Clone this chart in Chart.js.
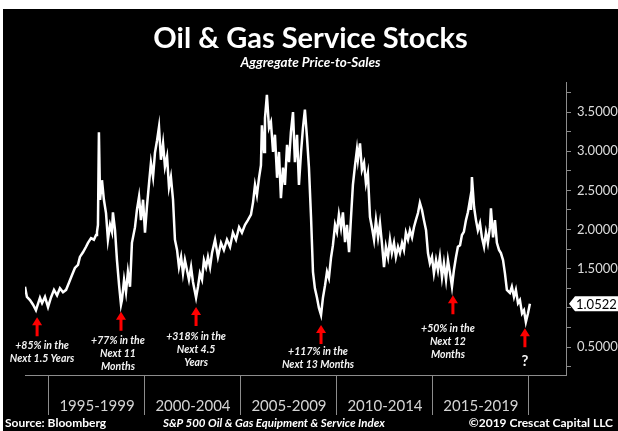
<!DOCTYPE html>
<html lang="en">
<head>
<meta charset="UTF-8">
<title>Oil &amp; Gas Service Stocks</title>
<script src="https://cdn.jsdelivr.net/npm/chart.js"></script>
<style>
    body { margin: 0; background: #fff; font-family: Lato, "Open Sans", sans-serif; }
    #wrap { position: absolute; left: 3px; top: 9px; width: 615px; height: 422px; background: #000; overflow: hidden; }
    #wrap canvas { position: absolute; left: 0; top: 0; }
    .txt { position: absolute; color: #fff; white-space: nowrap; }
    #title { left: 0; width: 615px; top: 12px; text-align: center; font-weight: bold; font-size: 29px; line-height: 32px; }
    #subtitle { left: 0; width: 615px; top: 45px; text-align: center; font-style: italic; font-weight: bold; font-size: 13.5px; line-height: 16px; }
    #source { left: 2px; top: 406px; font-weight: bold; font-size: 12px; line-height: 16px; }
    #index { left: 160px; top: 406px; font-style: italic; font-weight: bold; font-size: 11.5px; line-height: 16px; }
    #copy { right: 5px; top: 406px; font-weight: bold; font-size: 12px; line-height: 16px; }
</style>
</head>
<body>
<div id="wrap">
    <canvas id="chart" width="615" height="422"></canvas>
    <div class="txt" id="title">Oil &amp; Gas Service Stocks</div>
    <div class="txt" id="subtitle">Aggregate Price-to-Sales</div>
    <div class="txt" id="source">Source: Bloomberg</div>
    <div class="txt" id="index">S&amp;P 500 Oil &amp; Gas Equipment &amp; Service Index</div>
    <div class="txt" id="copy">©2019 Crescat Capital LLC</div>
</div>
<script>
    // readings: decimal year, aggregate price-to-sales
    const years = [
        1993.75, 1993.85, 1994.01, 1994.17, 1994.32, 1994.53, 1994.64, 1994.79, 1994.95, 1995.10,
        1995.26, 1995.42, 1995.57, 1995.73, 1995.89, 1996.04, 1996.20, 1996.35, 1996.51, 1996.61,
        1996.77, 1996.93, 1997.03, 1997.19, 1997.34, 1997.45, 1997.50, 1997.55, 1997.60, 1997.66,
        1997.71, 1997.76, 1997.86, 1997.97, 1998.07, 1998.18, 1998.28, 1998.33, 1998.44, 1998.54,
        1998.65, 1998.75, 1998.80, 1998.91, 1999.01, 1999.11, 1999.22, 1999.32, 1999.48, 1999.58,
        1999.69, 1999.79, 1999.90, 2000.00, 2000.10, 2000.21, 2000.31, 2000.42, 2000.52, 2000.63,
        2000.73, 2000.83, 2000.94, 2001.04, 2001.15, 2001.25, 2001.35, 2001.46, 2001.56, 2001.67,
        2001.77, 2001.88, 2001.98, 2002.08, 2002.19, 2002.29, 2002.40, 2002.50, 2002.66, 2002.76,
        2002.86, 2002.97, 2003.07, 2003.18, 2003.28, 2003.39, 2003.49, 2003.65, 2003.80, 2003.96,
        2004.11, 2004.27, 2004.43, 2004.58, 2004.74, 2004.90, 2005.05, 2005.21, 2005.36, 2005.52,
        2005.63, 2005.73, 2005.83, 2005.94, 2006.04, 2006.09, 2006.20, 2006.25, 2006.35, 2006.46,
        2006.56, 2006.67, 2006.77, 2006.88, 2006.98, 2007.08, 2007.19, 2007.29, 2007.40, 2007.50,
        2007.60, 2007.71, 2007.81, 2007.92, 2008.02, 2008.13, 2008.23, 2008.33, 2008.44, 2008.54,
        2008.65, 2008.75, 2008.85, 2008.96, 2009.06, 2009.17, 2009.27, 2009.38, 2009.48, 2009.58,
        2009.69, 2009.79, 2009.90, 2010.00, 2010.10, 2010.21, 2010.31, 2010.42, 2010.52, 2010.63,
        2010.73, 2010.83, 2010.94, 2011.04, 2011.09, 2011.20, 2011.30, 2011.41, 2011.51, 2011.61,
        2011.72, 2011.82, 2011.93, 2012.03, 2012.14, 2012.24, 2012.34, 2012.45, 2012.55, 2012.66,
        2012.76, 2012.86, 2012.97, 2013.07, 2013.18, 2013.28, 2013.39, 2013.49, 2013.59, 2013.70,
        2013.80, 2013.91, 2014.01, 2014.11, 2014.22, 2014.32, 2014.43, 2014.53, 2014.64, 2014.74,
        2014.84, 2014.95, 2015.05, 2015.16, 2015.26, 2015.36, 2015.47, 2015.57, 2015.68, 2015.78,
        2015.89, 2015.99, 2016.09, 2016.20, 2016.30, 2016.41, 2016.51, 2016.61, 2016.72, 2016.82,
        2016.93, 2016.98, 2017.03, 2017.14, 2017.24, 2017.34, 2017.45, 2017.55, 2017.66, 2017.76,
        2017.86, 2017.97, 2018.02, 2018.13, 2018.23, 2018.33, 2018.44, 2018.54, 2018.65, 2018.75,
        2018.85, 2019.01, 2019.11, 2019.22, 2019.32, 2019.43, 2019.53, 2019.64, 2019.74, 2019.84,
        2019.95, 2020.05
    ];
    const priceToSales = [
        1.27, 1.14, 1.10, 1.04, 0.97, 1.13, 1.06, 1.14, 1.01, 1.13,
        1.23, 1.16, 1.25, 1.20, 1.23, 1.32, 1.42, 1.51, 1.55, 1.65,
        1.71, 1.78, 1.83, 1.89, 1.87, 1.93, 1.97, 2.06, 3.24, 2.38,
        2.50, 2.63, 2.38, 2.21, 1.87, 2.06, 1.97, 2.22, 1.99, 1.61,
        1.29, 1.04, 1.10, 1.36, 1.20, 1.46, 1.27, 1.83, 2.03, 2.25,
        2.42, 2.12, 2.38, 1.96, 2.29, 2.59, 2.85, 2.67, 2.98, 3.14,
        3.31, 2.89, 3.10, 2.80, 2.93, 2.54, 2.67, 2.38, 1.87, 1.74,
        1.52, 1.65, 1.44, 1.61, 1.48, 1.36, 1.52, 1.33, 1.13, 1.27,
        1.44, 1.36, 1.61, 1.52, 1.65, 1.52, 1.70, 1.87, 1.65, 1.83,
        1.74, 1.87, 1.78, 1.96, 1.87, 2.03, 1.96, 2.06, 2.12, 2.19,
        2.35, 2.57, 2.44, 2.66, 2.82, 3.33, 2.99, 3.42, 3.72, 3.30,
        3.37, 2.99, 3.21, 2.66, 2.99, 2.40, 2.79, 2.57, 3.08, 2.86,
        3.24, 3.50, 2.86, 3.21, 2.57, 2.99, 3.30, 3.53, 3.17, 2.79,
        2.15, 1.46, 1.25, 1.13, 1.00, 0.91, 1.13, 1.29, 1.46, 1.38,
        1.64, 1.80, 2.06, 1.97, 2.19, 2.02, 2.22, 1.84, 2.06, 1.71,
        2.15, 2.57, 2.82, 3.02, 2.89, 3.10, 2.76, 2.85, 2.59, 2.72,
        2.16, 2.03, 1.87, 2.12, 1.90, 2.08, 1.83, 1.52, 1.78, 1.65,
        1.87, 1.70, 1.83, 1.65, 1.78, 1.70, 1.83, 1.74, 1.96, 1.87,
        1.99, 1.90, 2.03, 2.12, 2.21, 2.34, 2.25, 2.12, 1.99, 1.70,
        1.57, 1.65, 1.44, 1.61, 1.48, 1.65, 1.39, 1.57, 1.36, 1.61,
        1.44, 1.27, 1.48, 1.65, 1.78, 1.80, 1.93, 1.97, 2.12, 2.22,
        2.38, 2.25, 2.67, 2.29, 2.12, 1.99, 2.08, 1.90, 1.78, 1.96,
        1.83, 2.03, 2.27, 1.90, 2.12, 1.83, 1.74, 1.70, 1.61, 1.44,
        1.23, 1.19, 1.27, 1.14, 1.23, 1.06, 1.10, 0.93, 0.97, 0.82,
        0.93, 1.0522
    ];

    const periodStarts = [1995, 2000, 2005, 2010, 2015, 2020];
    const periodLabels = ["1995-1999", "2000-2004", "2005-2009", "2010-2014", "2015-2019"];
    const yTickValues = [0.25, 0.5, 0.75, 1.0, 1.25, 1.5, 1.75, 2.0, 2.25, 2.5, 2.75, 3.0, 3.25, 3.5, 3.75];
    const yLabelled = [0.5, 1.5, 2.0, 2.5, 3.0, 3.5];

    // red arrows under the troughs, with their notes
    const callouts = [
        { year: 1994.38, value: 0.88, dx: 5, gap: 28, lines: ["+85% in the", "Next 1.5 Years"] },
        { year: 1998.75, value: 0.95, dx: -3, gap: 29, lines: ["+77% in the", "Next 11", "Months"] },
        { year: 2002.66, value: 1.01, dx: 0, gap: 30, lines: ["+318% in the", "Next 4.5", "Years"] },
        { year: 2009.17, value: 0.78, dx: -3, gap: 27, lines: ["+117% in the", "Next 13 Months"] },
        { year: 2016.04, value: 1.16, dx: -5, gap: 33, lines: ["+50% in the", "Next 12", "Months"] },
        { year: 2019.79, value: 0.74, dx: 0, gap: 33, lines: ["?"], font: "bold 15px Lato" }
    ];

    const tickYears = [];
    periodStarts.forEach((s, i) => {
        tickYears.push(s);
        if (i < periodLabels.length) tickYears.push(s + 2.5);
    });

    const overlay = {
        id: "overlay",
        afterDraw(chart) {
            const { ctx, chartArea } = chart;
            const x = chart.scales.x;
            const y = chart.scales.y;
            ctx.save();
            callouts.forEach(c => {
                const px = x.getPixelForValue(c.year);
                const py = y.getPixelForValue(c.value);
                ctx.fillStyle = "#ff0000";
                ctx.beginPath();
                ctx.moveTo(px, py);
                ctx.lineTo(px + 5, py + 8);
                ctx.lineTo(px + 1.5, py + 8);
                ctx.lineTo(px + 1.5, py + 19);
                ctx.lineTo(px - 1.5, py + 19);
                ctx.lineTo(px - 1.5, py + 8);
                ctx.lineTo(px - 5, py + 8);
                ctx.closePath();
                ctx.fill();
                ctx.fillStyle = "#f2f2f2";
                ctx.font = c.font || "italic bold 10.5px Lato";
                ctx.textAlign = "center";
                ctx.textBaseline = "middle";
                c.lines.forEach((t, i) => ctx.fillText(t, px + c.dx, py + c.gap + i * 13));
            });

            // last value tag on the right axis
            const last = priceToSales[priceToSales.length - 1];
            const by = y.getPixelForValue(last);
            const bx = chartArea.right + 3;
            ctx.fillStyle = "#fff";
            ctx.beginPath();
            ctx.moveTo(bx, by);
            ctx.lineTo(bx + 6, by - 7.5);
            ctx.lineTo(chart.width, by - 7.5);
            ctx.lineTo(chart.width, by + 7.5);
            ctx.lineTo(bx + 6, by + 7.5);
            ctx.closePath();
            ctx.fill();
            ctx.fillStyle = "#000";
            ctx.font = "13px Lato";
            ctx.textAlign = "left";
            ctx.textBaseline = "middle";
            ctx.fillText(last.toFixed(4), bx + 7, by + 1);
            ctx.restore();
        }
    };

    new Chart(document.getElementById("chart"), {
        type: "line",
        data: {
            datasets: [{
                data: years.map((yr, i) => ({ x: yr, y: priceToSales[i] })),
                borderColor: "#ffffff",
                borderWidth: 2.5,
                pointRadius: 0,
                tension: 0
            }]
        },
        options: {
            responsive: false,
            animation: false,
            layout: { padding: { top: 73, left: 22, right: 0, bottom: 15 } },
            plugins: { legend: { display: false }, tooltip: { enabled: false } },
            scales: {
                x: {
                    type: "linear",
                    min: 1993.75,
                    max: 2021.93,
                    afterBuildTicks: s => { s.ticks = tickYears.map(v => ({ value: v })); },
                    afterFit: s => { s.height = 41; },
                    border: { color: "#8c8c8c", width: 1 },
                    grid: {
                        drawOnChartArea: false,
                        tickLength: 40,
                        color: c => periodStarts.includes(c.tick && c.tick.value) ? "#8c8c8c" : "rgba(0,0,0,0)"
                    },
                    ticks: {
                        padding: -18,
                        color: "#d4d4d4",
                        font: { family: "Lato", size: 15 },
                        maxRotation: 0,
                        autoSkip: false,
                        callback: v => {
                            const i = periodStarts.findIndex(s => s + 2.5 === v);
                            return i >= 0 ? periodLabels[i] : "";
                        }
                    }
                },
                y: {
                    position: "right",
                    min: 0.143,
                    max: 3.883,
                    afterBuildTicks: s => { s.ticks = yTickValues.map(v => ({ value: v })); },
                    afterFit: s => { s.width = 52; },
                    border: { color: "#8c8c8c", width: 1 },
                    grid: { drawOnChartArea: false, tickLength: 5, color: "#8c8c8c" },
                    ticks: {
                        padding: 6,
                        color: "#dcdcdc",
                        font: { family: "Lato", size: 13 },
                        autoSkip: false,
                        callback: v => yLabelled.includes(v) ? v.toFixed(4) : ""
                    }
                }
            }
        },
        plugins: [overlay]
    });
</script>
</body>
</html>
